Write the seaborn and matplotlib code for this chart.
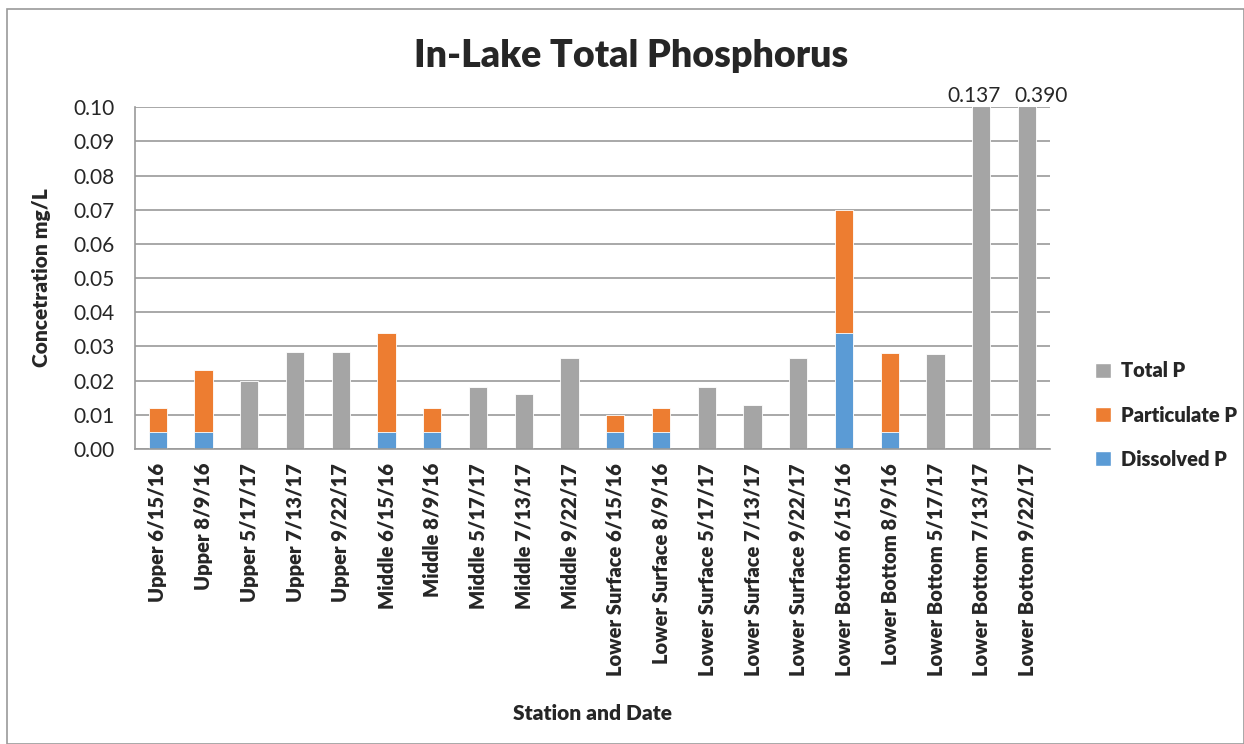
import matplotlib
matplotlib.use("Agg")
import matplotlib.pyplot as plt
import numpy as np
import pandas as pd
import seaborn as sns
from matplotlib.patches import Patch, Rectangle

stations = [
    "Upper 6/15/16", "Upper 8/9/16", "Upper 5/17/17", "Upper 7/13/17", "Upper 9/22/17",
    "Middle 6/15/16", "Middle 8/9/16", "Middle 5/17/17", "Middle 7/13/17", "Middle 9/22/17",
    "Lower Surface 6/15/16", "Lower Surface 8/9/16", "Lower Surface 5/17/17",
    "Lower Surface 7/13/17", "Lower Surface 9/22/17",
    "Lower Bottom 6/15/16", "Lower Bottom 8/9/16", "Lower Bottom 5/17/17",
    "Lower Bottom 7/13/17", "Lower Bottom 9/22/17",
]
# Total P for samples without a dissolved/particulate split
total_p = [None, None, 0.020, 0.0285, 0.0285,
           None, None, 0.018, 0.016, 0.0265,
           None, None, 0.018, 0.0128, 0.0265,
           None, None, 0.0277, 0.137, 0.390]
particulate_p = [0.007, 0.018, None, None, None,
                 0.029, 0.007, None, None, None,
                 0.005, 0.007, None, None, None,
                 0.036, 0.023, None, None, None]
dissolved_p = [0.005, 0.005, None, None, None,
               0.005, 0.005, None, None, None,
               0.005, 0.005, None, None, None,
               0.034, 0.005, None, None, None]

y_max = 0.10

sns.set_theme(style="white")
plt.rcParams["font.family"] = ["Lato", "DejaVu Sans"]

df = pd.DataFrame({
    "station": stations,
    "total": pd.array(total_p, dtype="Float64").astype(float),
    "part": pd.array(particulate_p, dtype="Float64").astype(float),
    "diss": pd.array(dissolved_p, dtype="Float64").astype(float),
})
df["stack_top"] = df["diss"] + df["part"]

c_total = "#A5A5A5"
c_part = "#ED7D31"
c_diss = "#5B9BD5"
c_axis = "#9A9A9A"

fig = plt.figure(figsize=(12.44, 7.44), dpi=100)
ax = fig.add_axes([0.1085, 0.3965, 0.7355, 0.4595])

bw = 0.4
kw = dict(order=stations, width=bw, ax=ax, edgecolor="white", linewidth=0.6, saturation=1)
sns.barplot(data=df, x="station", y="total", color=c_total, **kw)
sns.barplot(data=df, x="station", y="stack_top", color=c_part, **kw)
sns.barplot(data=df, x="station", y="diss", color=c_diss, **kw)

ax.set_ylim(0, y_max)
ax.set_xlim(-0.5, len(stations) - 0.5)
yt = np.arange(0, 0.1001, 0.01)
ax.set_yticks(yt)
ax.set_yticklabels([f"{v:.2f}" for v in yt], fontsize=15)
ax.yaxis.grid(True, color=c_axis, linewidth=1.2)
ax.set_axisbelow(True)
ax.tick_params(axis="y", length=7, color=c_axis, width=1.2, pad=8)

ax.set_xticks(range(len(stations)))
ax.set_xticklabels(stations, rotation=90, fontsize=14.5, fontweight="heavy")
ax.set_xticks(np.arange(-0.5, len(stations), 1.0), minor=True)
ax.tick_params(axis="x", which="major", length=0, pad=10)
ax.tick_params(axis="x", which="minor", length=7, color=c_axis, width=1.2)

for side in ("top", "right"):
    ax.spines[side].set_visible(False)
for side in ("left", "bottom"):
    ax.spines[side].set_color(c_axis)
    ax.spines[side].set_linewidth(1.2)

# Values of bars that run past the axis limit
label_shift = {18: -5, 19: 10}
for i, v in enumerate(total_p):
    if v is not None and v > y_max:
        ax.annotate(f"{v:.3f}", xy=(i, y_max), xytext=(label_shift.get(i, 0), 1),
                    textcoords="offset points", ha="center", va="bottom", fontsize=15)

ax.set_ylabel("Concetration mg/L", fontsize=15, fontweight="heavy", labelpad=16)
ax.set_xlabel("Station and Date", fontsize=15, fontweight="heavy", labelpad=20)
fig.text(0.507, 0.925, "In-Lake Total Phosphorus", ha="center", va="center",
         fontsize=27, fontweight="heavy")

handles = [Patch(facecolor=c_total, label="Total P"),
           Patch(facecolor=c_part, label="Particulate P"),
           Patch(facecolor=c_diss, label="Dissolved P")]
fig.legend(handles=handles, loc="center left", bbox_to_anchor=(0.866, 0.442),
           frameon=False, prop={"weight": "heavy", "size": 14.5},
           handlelength=0.75, handleheight=0.75, handletextpad=0.5, labelspacing=1.25)

fig.add_artist(Rectangle((0.006, 0.0), 0.994, 0.988, transform=fig.transFigure,
                         fill=False, edgecolor=c_axis, linewidth=1.2))

fig.savefig("out.png", dpi=100)
